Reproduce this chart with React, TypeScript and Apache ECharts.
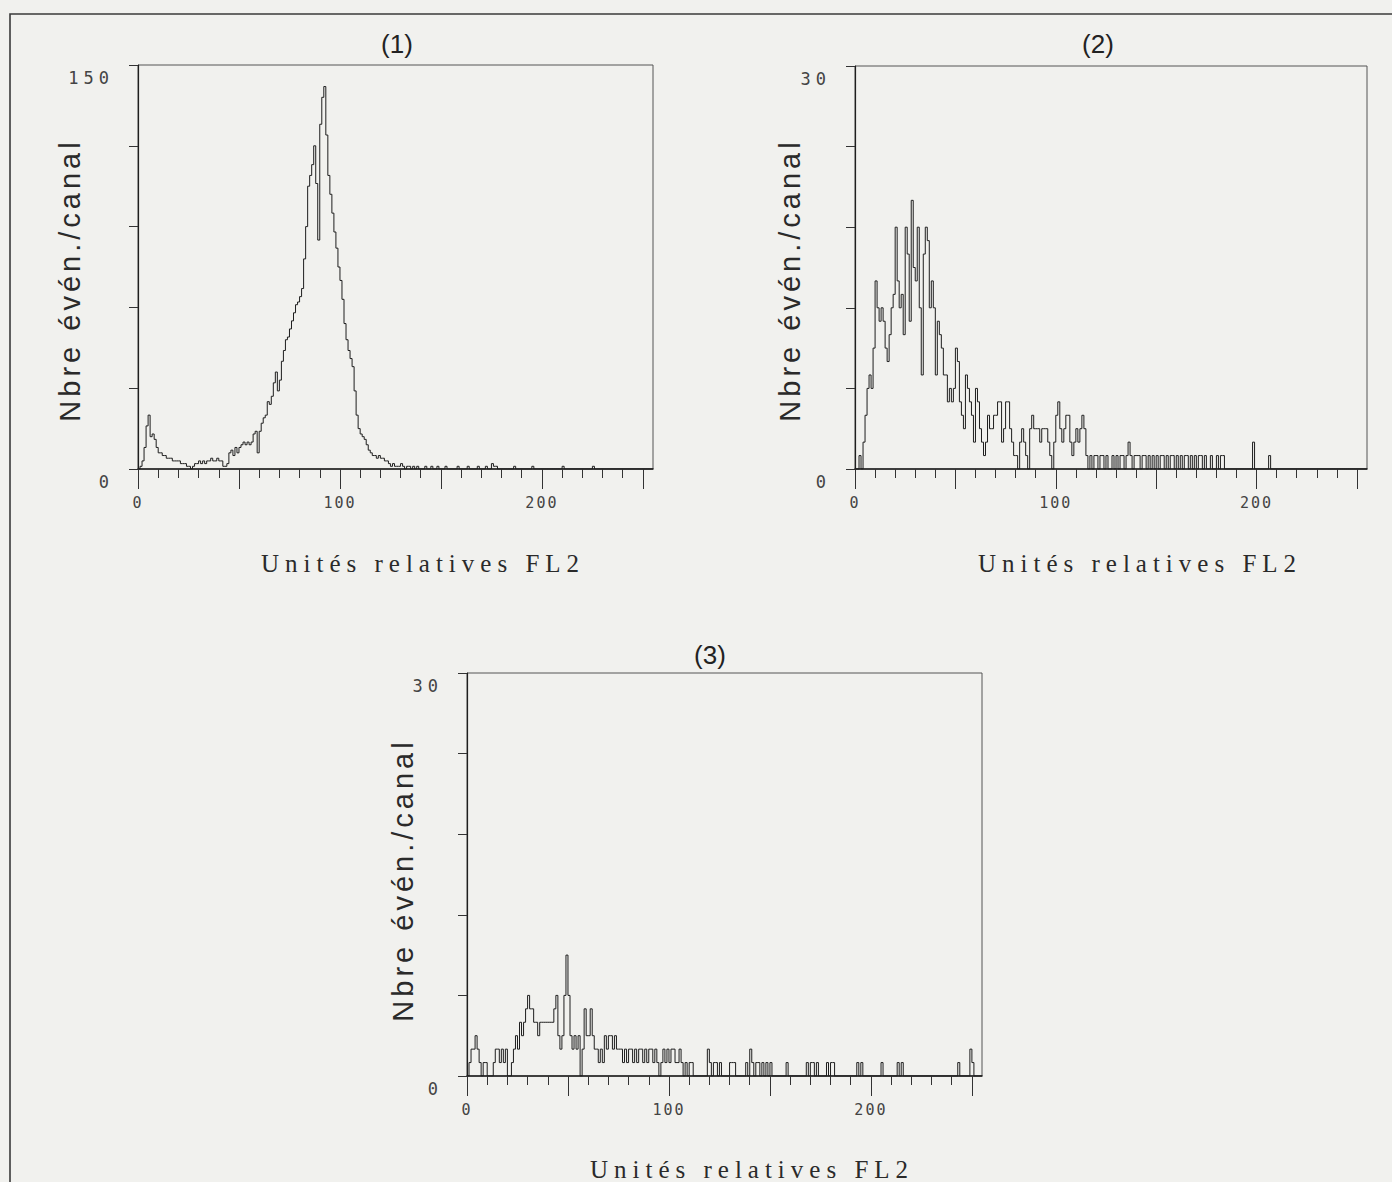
import React, { useEffect, useRef } from "react";
import * as echarts from "echarts";

// ---------- DATA (counts per channel, 256 channels) ----------
const counts1 = [
  0, 1, 3, 8, 16, 20, 12, 13, 11, 8, 6, 6, 5, 5, 4, 4,
  4, 3, 3, 3, 3, 2, 2, 2, 1, 1, 0, 1, 2, 2, 3, 2,
  3, 2, 3, 3, 4, 3, 3, 4, 3, 3, 1, 1, 2, 6, 7, 5,
  8, 6, 8, 9, 10, 9, 10, 9, 10, 13, 14, 6, 14, 17, 19, 20,
  25, 24, 27, 32, 36, 29, 33, 40, 44, 48, 49, 52, 55, 58, 61, 62,
  64, 67, 78, 90, 105, 109, 113, 120, 106, 85, 128, 138, 142, 124, 109, 102,
  95, 88, 82, 75, 70, 63, 54, 48, 44, 41, 38, 29, 20, 15, 13, 12,
  11, 9, 7, 6, 5, 5, 4, 5, 4, 4, 3, 3, 2, 1, 2, 1,
  1, 1, 2, 1, 0, 1, 1, 0, 1, 0, 1, 0, 0, 0, 1, 0,
  0, 1, 0, 0, 1, 0, 0, 0, 1, 0, 0, 0, 0, 0, 1, 0,
  0, 0, 0, 1, 0, 0, 0, 0, 1, 0, 0, 0, 1, 0, 0, 2,
  1, 1, 0, 0, 0, 0, 0, 0, 0, 0, 1, 0, 0, 0, 0, 0,
  0, 0, 0, 1, 0, 0, 0, 0, 0, 0, 0, 0, 0, 0, 0, 0,
  0, 0, 1, 0, 0, 0, 0, 0, 0, 0, 0, 0, 0, 0, 0, 0,
  0, 1, 0, 0, 0, 0, 0, 0, 0, 0, 0, 0, 0, 0, 0, 0,
  0, 0, 0, 0, 0, 0, 0, 0, 0, 0, 0, 0, 0, 0, 0, 0,
];

const counts2 = [
  0, 0, 1, 0, 2, 4, 6, 7, 6, 9, 14, 12, 11, 12, 11, 9,
  8, 10, 12, 13, 18, 14, 12, 13, 10, 18, 16, 11, 20, 15, 14, 18,
  12, 7, 16, 18, 17, 12, 14, 12, 7, 11, 10, 9, 7, 7, 5, 6,
  5, 6, 9, 8, 5, 4, 3, 7, 6, 5, 4, 2, 6, 5, 3, 2,
  1, 2, 4, 3, 3, 4, 4, 5, 5, 2, 3, 5, 5, 3, 2, 1,
  1, 0, 2, 3, 2, 1, 0, 3, 4, 3, 3, 3, 2, 3, 3, 3,
  2, 1, 0, 2, 4, 5, 3, 2, 3, 4, 4, 2, 1, 2, 3, 2,
  3, 4, 3, 1, 0, 1, 0, 1, 1, 0, 1, 1, 0, 1, 0, 0,
  1, 0, 1, 0, 1, 1, 0, 1, 2, 1, 0, 1, 1, 1, 0, 1,
  1, 0, 1, 0, 1, 0, 1, 0, 1, 1, 0, 1, 0, 1, 1, 0,
  1, 0, 1, 0, 1, 1, 0, 1, 0, 1, 0, 1, 1, 0, 1, 0,
  0, 1, 0, 0, 1, 0, 1, 1, 0, 0, 0, 0, 0, 0, 0, 0,
  0, 0, 0, 0, 0, 0, 2, 0, 0, 0, 0, 0, 0, 0, 1, 0,
  0, 0, 0, 0, 0, 0, 0, 0, 0, 0, 0, 0, 0, 0, 0, 0,
  0, 0, 0, 0, 0, 0, 0, 0, 0, 0, 0, 0, 0, 0, 0, 0,
  0, 0, 0, 0, 0, 0, 0, 0, 0, 0, 0, 0, 0, 0, 0, 0,
];

const counts3 = [
  0, 1, 2, 2, 3, 2, 1, 0, 1, 1, 0, 0, 0, 1, 2, 2,
  1, 2, 1, 2, 0, 0, 1, 2, 3, 2, 4, 3, 4, 5, 6, 5,
  5, 4, 4, 3, 4, 4, 4, 4, 4, 4, 4, 5, 6, 3, 2, 3,
  6, 9, 6, 3, 2, 3, 2, 3, 0, 2, 5, 3, 3, 5, 3, 2,
  2, 1, 2, 1, 3, 2, 3, 3, 2, 3, 2, 2, 2, 1, 2, 1,
  2, 2, 1, 2, 1, 2, 2, 1, 2, 1, 2, 2, 1, 2, 1, 0,
  1, 2, 1, 2, 1, 2, 2, 1, 1, 2, 1, 0, 1, 0, 1, 1,
  0, 0, 0, 0, 0, 0, 0, 2, 1, 0, 1, 1, 0, 1, 0, 0,
  0, 0, 1, 1, 1, 0, 0, 0, 0, 0, 1, 0, 2, 1, 0, 1,
  1, 0, 1, 0, 1, 0, 1, 0, 0, 0, 0, 0, 0, 0, 1, 0,
  0, 0, 0, 0, 0, 0, 0, 0, 1, 0, 1, 1, 0, 1, 0, 0,
  0, 0, 1, 0, 1, 1, 0, 0, 0, 0, 0, 0, 0, 0, 0, 0,
  0, 1, 0, 1, 0, 0, 0, 0, 0, 0, 0, 0, 0, 1, 0, 0,
  0, 0, 0, 0, 0, 1, 0, 1, 0, 0, 0, 0, 0, 0, 0, 0,
  0, 0, 0, 0, 0, 0, 0, 0, 0, 0, 0, 0, 0, 0, 0, 0,
  0, 0, 0, 1, 0, 0, 0, 0, 0, 2, 1, 0, 0, 0, 0, 0,
];

const channels = counts1.map((_, i) => i);
const panelTitles = ["(1)", "(2)", "(3)"];
const yMaxes = [150, 30, 30];
const xMajorTicks = [0, 50, 100, 150, 200, 250];
const xMinorTicks = [
  10, 20, 30, 40, 60, 70, 80, 90, 110, 120, 130, 140,
  160, 170, 180, 190, 210, 220, 230, 240,
];
const xTickLabels = [0, 100, 200];
const yAxisName = "Nbre évén./canal";
const xAxisName = "Unités relatives FL2";

// ---------- LAYOUT / STYLE ----------
const PAPER = "#f1f1ee";
const INK = "#1e1e1e";
const MONO = '"DejaVu Sans Mono", "Liberation Mono", monospace';
const SANS = '"Liberation Sans Narrow", "Liberation Sans", Arial, sans-serif';
const SANS_Y = '"Liberation Sans", Arial, sans-serif';
const SERIF = '"Liberation Serif", "DejaVu Serif", serif';

const gridBoxes = [
  { left: 138, top: 65, width: 515, height: 404 },
  { left: 855, top: 66, width: 512, height: 403 },
  { left: 467, top: 673, width: 515, height: 403 },
];
const titlePos = [
  [397, 44],
  [1098, 44],
  [710, 655],
];
const yNamePos = [
  [70, 280],
  [790, 280],
  [403, 880],
];
const xNamePos = [
  [423, 563],
  [1140, 563],
  [752, 1169],
];

export default function App() {
  const ref = useRef<HTMLDivElement>(null);

  useEffect(() => {
    document.body.style.margin = "0";
    document.body.style.background = PAPER;
    const el = ref.current!;
    const chart = echarts.init(el, null, { renderer: "svg" });
    const panels = [counts1, counts2, counts3];

    const xAxes: any[] = [];
    const yAxes: any[] = [];
    const series: any[] = [];
    const graphics: any[] = [];

    panels.forEach((counts, i) => {
      xAxes.push({
        gridIndex: i,
        type: "value",
        min: 0,
        max: 255,
        position: "bottom",
        offset: 0,
        axisLine: { show: true, onZero: false, lineStyle: { color: INK, width: 1.5 } },
        axisTick: { show: true, customValues: xMajorTicks, length: 20, lineStyle: { color: "#333", width: 1 } },
        axisLabel: {
          show: true,
          customValues: xTickLabels,
          margin: 26,
          fontFamily: MONO,
          fontSize: 15,
          color: "#444",
        },
        splitLine: { show: false },
      });
      xAxes.push({
        gridIndex: i,
        type: "value",
        min: 0,
        max: 255,
        position: "bottom",
        offset: 0,
        axisLine: { show: false },
        axisTick: { show: true, customValues: xMinorTicks, length: 9, lineStyle: { color: "#333", width: 1 } },
        axisLabel: { show: false },
        splitLine: { show: false },
      });
      const max = yMaxes[i];
      yAxes.push({
        gridIndex: i,
        type: "value",
        min: 0,
        max,
        interval: max / 5,
        axisLine: { show: true, onZero: false, lineStyle: { color: INK, width: 1.2 } },
        axisTick: { show: true, length: 9, lineStyle: { color: "#333", width: 1 } },
        axisLabel: {
          show: true,
          customValues: [0, max],
          margin: 24,
          fontFamily: MONO,
          fontSize: 17,
          color: "#444",
          verticalAlign: "top",
          lineHeight: 26,
        },
        splitLine: { show: false },
      });
      series.push({
        type: "line",
        step: "end",
        xAxisIndex: i * 2,
        yAxisIndex: i,
        showSymbol: false,
        symbol: "none",
        silent: true,
        lineStyle: { color: INK, width: 1 },
        data: counts.map((v, k) => [channels[k], v]),
      });
      graphics.push({
        type: "text",
        x: titlePos[i][0],
        y: titlePos[i][1],
        silent: true,
        style: {
          text: panelTitles[i],
          font: `26px ${SANS}`,
          fill: "#222",
          align: "center",
          verticalAlign: "middle",
          textAlign: "center",
          textVerticalAlign: "middle",
        },
      });
      graphics.push({
        type: "text",
        x: yNamePos[i][0],
        y: yNamePos[i][1],
        rotation: Math.PI / 2,
        silent: true,
        style: {
          text: yAxisName,
          font: `29px ${SANS_Y}`,
          fill: "#2a2a2a",
          align: "center",
          verticalAlign: "middle",
          textAlign: "center",
          textVerticalAlign: "middle",
        },
      });
      graphics.push({
        type: "text",
        x: xNamePos[i][0],
        y: xNamePos[i][1],
        silent: true,
        style: {
          text: xAxisName,
          font: `25px ${SERIF}`,
          fill: "#2a2a2a",
          align: "center",
          verticalAlign: "middle",
          textAlign: "center",
          textVerticalAlign: "middle",
        },
      });
    });

    // page frame
    graphics.push({
      type: "polyline",
      silent: true,
      shape: { points: [[10, 1182], [10, 14], [1392, 14]] },
      style: { stroke: "#3a3a3a", lineWidth: 1.6, fill: "none" },
    });

    const option: any = {
      animation: false,
      backgroundColor: PAPER,
      grid: gridBoxes.map((g) => ({
        ...g,
        show: true,
        borderColor: "#555",
        borderWidth: 1,
        backgroundColor: "transparent",
        containLabel: false,
      })),
      xAxis: xAxes,
      yAxis: yAxes,
      series,
      graphic: { elements: graphics },
    };

    const spacing: Record<string, number> = { [xAxisName]: 6, [yAxisName]: 4 };
    const applySpacing = () => {
      el.querySelectorAll("text").forEach((t) => {
        const s = (t.textContent || "").trim();
        if (spacing[s] != null) {
          (t as any).style.letterSpacing = spacing[s] + "px";
        } else if (/^\d+$/.test(s)) {
          const st = t.getAttribute("style") || "";
          (t as any).style.letterSpacing = st.includes("17px") ? "5px" : "2px";
        }
      });
    };
    chart.on("finished", applySpacing);
    chart.setOption(option);
    applySpacing();
    const timer = setTimeout(applySpacing, 60);

    return () => {
      clearTimeout(timer);
      chart.dispose();
    };
  }, []);

  return (
    <div
      ref={ref}
      style={{ position: "absolute", left: 0, top: 0, width: 1392, height: 1182, background: PAPER }}
    />
  );
}
